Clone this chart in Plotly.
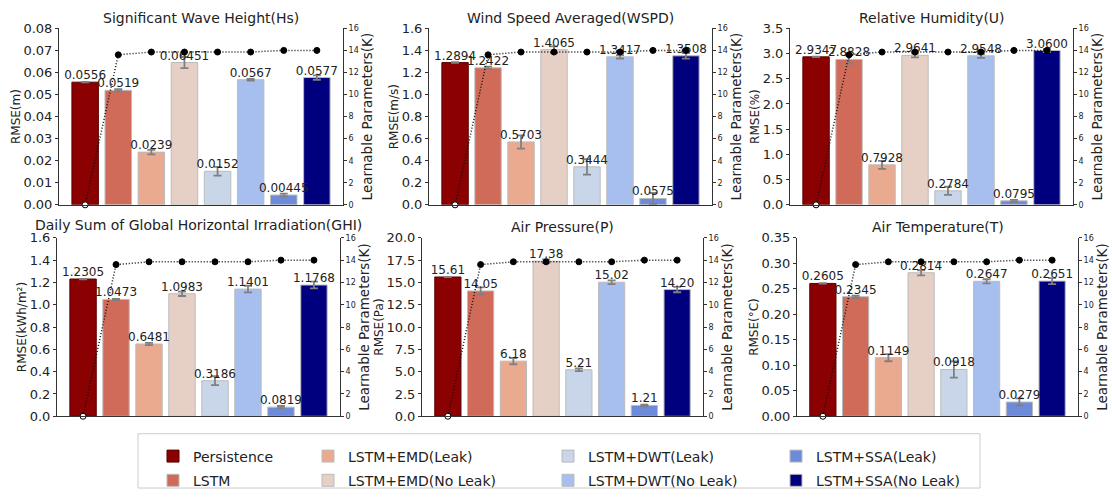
import plotly.graph_objects as go

W, H = 1112, 497

methods = ["Persistence", "LSTM", "LSTM+EMD(Leak)", "LSTM+EMD(No Leak)",
           "LSTM+DWT(Leak)", "LSTM+DWT(No Leak)", "LSTM+SSA(Leak)", "LSTM+SSA(No Leak)"]
colors = ["#8B0000", "#CF6B58", "#EAAA8F", "#E6D0C5",
          "#C9D5E8", "#A7BFEF", "#6E8BDB", "#00007F"]
positions = [0, 1, 2, 3, 4, 5, 6, 7]

# Learnable parameters (K), same across panels
K = [0, 13.6, 13.85, 13.85, 13.85, 13.85, 14.0, 14.0]

titles = ["Significant Wave Height(Hs)", "Wind Speed Averaged(WSPD)", "Relative Humidity(U)",
          "Daily Sum of Global Horizontal Irradiation(GHI)", "Air Pressure(P)", "Air Temperature(T)"]
ytitles = ["RMSE(m)", "RMSE(m/s)", "RMSE(%)", "RMSE(kWh/m²)", "RMSE(Pa)", "RMSE(°C)"]

hs_vals = [0.0556, 0.0519, 0.0239, 0.06451, 0.0152, 0.0567, 0.00445, 0.0577]
hs_err = [0.0001, 0.0005, 0.001, 0.0025, 0.002, 0.0004, 0.0006, 0.001]
hs_text = ["0.0556", "0.0519", "0.0239", "0.06451", "0.0152", "0.0567", "0.00445", "0.0577"]

wspd_vals = [1.2894, 1.2422, 0.5703, 1.4065, 0.3444, 1.3417, 0.0575, 1.3508]
wspd_err = [0.003, 0.01, 0.06, 0.03, 0.07, 0.015, 0.05, 0.025]
wspd_text = ["1.2894", "1.2422", "0.5703", "1.4065", "0.3444", "1.3417", "0.0575", "1.3508"]

u_vals = [2.9347, 2.8828, 0.7928, 2.9641, 0.2784, 2.9548, 0.0795, 3.0600]
u_err = [0.005, 0.08, 0.08, 0.04, 0.08, 0.04, 0.02, 0.03]
u_text = ["2.9347", "2.8828", "0.7928", "2.9641", "0.2784", "2.9548", "0.0795", "3.0600"]

ghi_vals = [1.2305, 1.0473, 0.6481, 1.0983, 0.3186, 1.1401, 0.0819, 1.1768]
ghi_err = [0.002, 0.005, 0.01, 0.02, 0.04, 0.03, 0.01, 0.03]
ghi_text = ["1.2305", "1.0473", "0.6481", "1.0983", "0.3186", "1.1401", "0.0819", "1.1768"]

p_vals = [15.61, 14.05, 6.18, 17.38, 5.21, 15.02, 1.21, 14.20]
p_err = [0.02, 0.4, 0.35, 0.2, 0.15, 0.2, 0.1, 0.3]
p_text = ["15.61", "14.05", "6.18", "17.38", "5.21", "15.02", "1.21", "14.20"]

t_vals = [0.2605, 0.2345, 0.1149, 0.2814, 0.0918, 0.2647, 0.0279, 0.2651]
t_err = [0.0005, 0.002, 0.007, 0.005, 0.016, 0.004, 0.007, 0.006]
t_text = ["0.2605", "0.2345", "0.1149", "0.2814", "0.0918", "0.2647", "0.0279", "0.2651"]

panel_vals = [hs_vals, wspd_vals, u_vals, ghi_vals, p_vals, t_vals]
panel_err = [hs_err, wspd_err, u_err, ghi_err, p_err, t_err]
panel_text = [hs_text, wspd_text, u_text, ghi_text, p_text, t_text]
yranges = [(0, 0.08), (0, 1.6), (0, 3.5), (0, 1.6), (0, 20), (0, 0.35)]
ydticks = [0.01, 0.2, 0.5, 0.2, 2.5, 0.05]
yformats = [".2f", ".1f", ".1f", ".1f", ".1f", ".2f"]

# layout geometry (pixels)
xdom_px = [(59, 343), (429, 712), (790, 1073), (57, 340), (422, 703), (797, 1078)]
ydom_px = [(22, 204), (22, 204), (22, 204), (238, 422), (238, 422), (238, 422)]
title_shift = [0, 0, 0, 3, 1, 1]

FONT = "DejaVu Sans"
TXT = "#222222"
legend_names = ["legend", "legend", "legend2", "legend2", "legend3", "legend3", "legend4", "legend4"]

fig = go.Figure()
layout = {}
annotations = []

for p in range(6):
    n = p + 1
    xa = "x" if n == 1 else f"x{n}"
    ya = "y" if n == 1 else f"y{n}"
    ya2 = f"y{n + 6}"
    vals, errs, texts = panel_vals[p], panel_err[p], panel_text[p]
    for i, m in enumerate(methods):
        fig.add_trace(go.Bar(
            x=[positions[i]], y=[vals[i]], width=0.8, name=m,
            marker=dict(color=colors[i], line=dict(color="#BBBBBB" if i else "#5a0000", width=1)),
            error_y=dict(type="data", array=[errs[i]], color="#808080", thickness=1.8, width=4),
            xaxis=xa, yaxis=ya, showlegend=(p == 0), legend=legend_names[i],
            legendgroup=m,
        ))
    fig.add_trace(go.Scatter(
        x=positions, y=vals, text=texts, mode="text", textposition="top center",
        textfont=dict(family=FONT, size=12, color=TXT), xaxis=xa, yaxis=ya,
        showlegend=False, cliponaxis=False,
    ))
    fig.add_trace(go.Scatter(
        x=positions, y=K, mode="lines+markers", xaxis=xa, yaxis=ya2, showlegend=False,
        line=dict(color="#111111", width=1.5, dash="1px,2px"),
        marker=dict(size=6, color=["white"] + ["black"] * 7, line=dict(color="black", width=1)),
        cliponaxis=False,
    ))

    x0, x1 = xdom_px[p]
    y0, y1 = ydom_px[p]
    xd = [x0 / W, x1 / W]
    yd = [1 - y1 / H, 1 - y0 / H]
    xkey = "xaxis" if n == 1 else f"xaxis{n}"
    ykey = "yaxis" if n == 1 else f"yaxis{n}"
    layout[xkey] = dict(domain=xd, anchor=ya, range=[-0.79, 7.79], showticklabels=False,
                        ticks="", showgrid=False, zeroline=False, showline=True,
                        linecolor="#333333", linewidth=1)
    layout[ykey] = dict(domain=yd, anchor=xa, range=list(yranges[p]), dtick=ydticks[p],
                        tick0=0, tickformat=yformats[p], showgrid=False, zeroline=False,
                        showline=True, linecolor="#333333", linewidth=1, ticks="outside",
                        ticklen=3, tickcolor="#333333",
                        tickfont=dict(family=FONT, size=13, color=TXT),
                        title=dict(text=ytitles[p], font=dict(family=FONT, size=12, color=TXT),
                                   standoff=0))
    layout[f"yaxis{n + 6}"] = dict(overlaying=ya, anchor=xa, side="right", range=[0, 16],
                                   dtick=2, tick0=0, showgrid=False, zeroline=False,
                                   showline=True, linecolor="#333333", linewidth=1,
                                   ticks="outside", ticklen=3, tickcolor="#333333",
                                   tickfont=dict(family=FONT, size=8, color=TXT),
                                   title=dict(text="Learnable Parameters(K)",
                                              font=dict(family=FONT, size=13.5, color=TXT),
                                              standoff=4))
    annotations.append(dict(text=titles[p], x=(xd[0] + xd[1]) / 2, y=yd[1], xref="paper",
                            yref="paper", xanchor="center", yanchor="bottom", showarrow=False,
                            yshift=title_shift[p], font=dict(family=FONT, size=14, color=TXT)))

leg_common = dict(orientation="v", yanchor="top", xanchor="left", y=1 - 447 / H,
                  bgcolor="rgba(0,0,0,0)", borderwidth=0, tracegroupgap=3,
                  font=dict(family=FONT, size=14, color=TXT), itemclick=False)
layout["legend"] = dict(leg_common, x=153 / W)
layout["legend2"] = dict(leg_common, x=308 / W)
layout["legend3"] = dict(leg_common, x=548 / W)
layout["legend4"] = dict(leg_common, x=776 / W)

fig.update_layout(
    width=W, height=H, margin=dict(l=0, r=0, t=0, b=0),
    paper_bgcolor="white", plot_bgcolor="white", barmode="overlay",
    font=dict(family=FONT, color=TXT),
    annotations=annotations,
    shapes=[dict(type="rect", xref="paper", yref="paper", x0=138 / W, x1=980 / W,
                 y0=1 - 496 / H, y1=1 - 440 / H, line=dict(color="#CCCCCC", width=1),
                 fillcolor="white", layer="below")],
    **layout,
)

fig.write_html("out.html")
